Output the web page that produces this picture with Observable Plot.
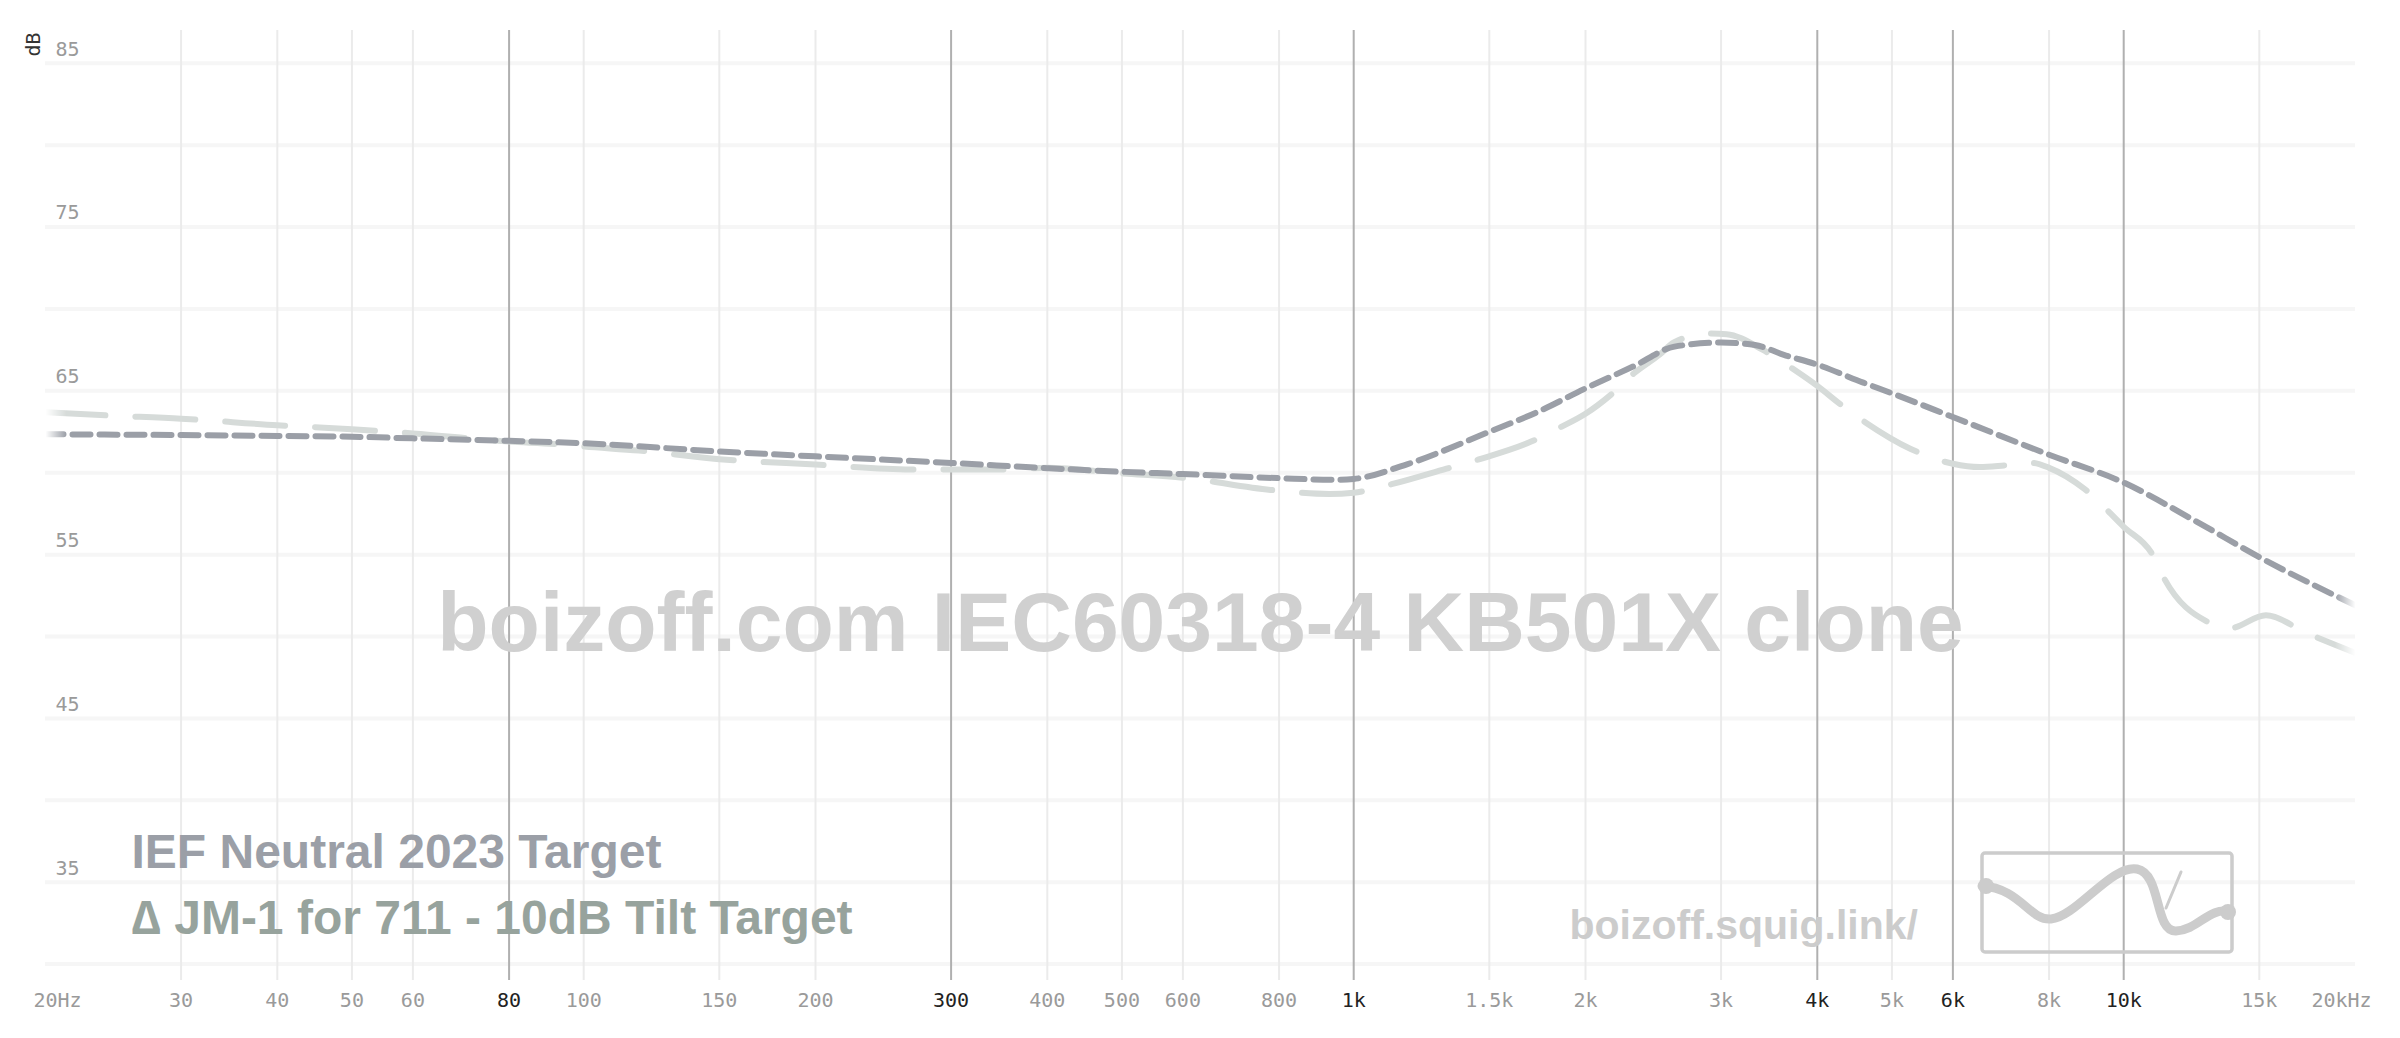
<!DOCTYPE html>
<html>
<head>
<meta charset="utf-8">
<script src="https://cdn.jsdelivr.net/npm/d3@7"></script>
<script src="https://cdn.jsdelivr.net/npm/@observablehq/plot@0.6"></script>
<style>
  html, body { margin: 0; padding: 0; background: #fff; }
  #chart svg { display: block; }
</style>
</head>
<body>
<div id="chart"></div>
<script>
// ---- data ----
const freqTicks  = [20, 30, 40, 50, 60, 80, 100, 150, 200, 300, 400, 500, 600, 800, 1000, 1500, 2000, 3000, 4000, 5000, 6000, 8000, 10000, 15000, 20000];
const freqLabels = ["20Hz", "30", "40", "50", "60", "80", "100", "150", "200", "300", "400", "500", "600", "800", "1k", "1.5k", "2k", "3k", "4k", "5k", "6k", "8k", "10k", "15k", "20kHz"];
const strongTicks = [80, 300, 1000, 4000, 6000, 10000];
const dbGrid   = [30, 35, 40, 45, 50, 55, 60, 65, 70, 75, 80, 85];
const dbLabels = [85, 75, 65, 55, 45, 35];

const seriesNames = ["IEF Neutral 2023 Target", "\u2206 JM-1 for 711 - 10dB Tilt Target"];
const chartTitle = "boizoff.com IEC60318-4 KB501X clone";
const siteLink = "boizoff.squig.link/";

const iefFreq = [20, 30, 40, 50, 60, 80, 100, 150, 200, 300, 400, 500, 600, 800, 950, 1000, 1170, 1500, 1740, 2000, 2310, 2610, 3000, 3320, 3620, 4000, 4590, 5000, 6000, 8000, 10000, 12450, 15000, 20000];
const iefDb   = [62.35, 62.3, 62.25, 62.2, 62.1, 61.95, 61.8, 61.3, 61.0, 60.6, 60.28, 60.06, 59.92, 59.67, 59.57, 59.62, 60.5, 62.5, 63.75, 65.15, 66.5, 67.7, 67.95, 67.8, 67.2, 66.6, 65.5, 64.85, 63.4, 61.1, 59.4, 57.0, 54.85, 51.9];

const jmFreq = [20, 24, 30, 40, 50, 60, 80, 92, 100, 118, 150, 200, 266, 300, 350, 400, 500, 600, 780, 930, 1000, 1120, 1320, 1450, 1700, 1860, 2000, 2155, 2310, 2500, 2605, 2885, 3050, 3400, 3730, 4000, 4280, 4620, 5290, 6000, 6500, 7000, 7600, 8000, 8900, 10000, 10900, 11300, 12900, 13700, 15300, 17300, 20000];
const jmDb   = [63.7, 63.5, 63.3, 62.9, 62.66, 62.4, 61.9, 61.75, 61.6, 61.35, 60.83, 60.5, 60.2, 60.2, 60.2, 60.3, 59.96, 59.7, 58.95, 58.7, 58.78, 59.3, 60.25, 60.8, 61.9, 62.8, 63.6, 64.74, 66.06, 67.24, 67.95, 68.5, 68.46, 67.5, 66.3, 65.3, 64.2, 63.07, 61.45, 60.55, 60.35, 60.45, 60.6, 60.3, 59.0, 56.7, 55.0, 53.5, 50.86, 50.5, 51.3, 50.2, 49.0];

// ---- tables ----
const ief = iefFreq.map((f, i) => ({f, db: iefDb[i]}));
const jm  = jmFreq.map((f, i) => ({f, db: jmDb[i]}));
const tickRows = freqTicks.map((f, i) => ({f, label: freqLabels[i], strong: strongTicks.includes(f)}));
const innerTicks = tickRows.slice(1, -1);
const lightGrid = freqTicks.filter(f => f !== 20 && f !== 20000 && !strongTicks.includes(f));

const mono = "'DejaVu Sans Mono', monospace";
const sans = "'Liberation Sans', Arial, sans-serif";

const chart = Plot.plot({
  width: 2400,
  height: 1038,
  marginLeft: 45,
  marginRight: 45,
  marginTop: 30,
  marginBottom: 58,
  style: {background: "#fff", fontFamily: mono},
  x: {type: "log", domain: [20, 20000], axis: null},
  y: {domain: [29, 87], axis: null},
  marks: [
    Plot.ruleY(dbGrid, {stroke: "#f6f6f6", strokeWidth: 4}),
    Plot.ruleX(lightGrid, {stroke: "#ebebeb", strokeWidth: 2}),
    Plot.ruleX(strongTicks, {stroke: "#b0b0b0", strokeWidth: 2}),
    // y labels
    Plot.text(dbLabels, {y: d => d, text: d => String(d), frameAnchor: "left", textAnchor: "start", dx: 10, dy: -14, fill: "#9a9a9a", fontSize: 20, fontFamily: mono}),
    Plot.text(["dB"], {frameAnchor: "top-left", rotate: -90, dx: -20, dy: 26, fill: "#333", fontSize: 20, fontFamily: mono}),
    // x labels
    Plot.text(innerTicks, {x: "f", text: "label", frameAnchor: "bottom", dy: 26, fill: d => d.strong ? "#222" : "#9a9a9a", fontSize: 20, fontFamily: mono}),
    Plot.text(tickRows.slice(0, 1), {x: "f", text: "label", frameAnchor: "bottom", dy: 26, dx: 12, fill: "#9a9a9a", fontSize: 20, fontFamily: mono}),
    Plot.text(tickRows.slice(-1), {x: "f", text: "label", frameAnchor: "bottom", dy: 26, dx: -14, fill: "#9a9a9a", fontSize: 20, fontFamily: mono}),
    // watermark
    Plot.text([chartTitle], {frameAnchor: "middle", dy: 119, fill: "#d0d0d0", fontSize: 84, fontWeight: "bold", fontFamily: sans}),
    Plot.text([siteLink], {frameAnchor: "bottom-left", textAnchor: "start", dx: 1524, dy: -42, fill: "#cccccc", fontSize: 41, fontWeight: "bold", fontFamily: sans}),
    // legend
    Plot.text([seriesNames[0]], {frameAnchor: "bottom-left", textAnchor: "start", dx: 86, dy: -113, fill: "#9b9fa7", fontSize: 48, fontWeight: "bold", fontFamily: sans}),
    Plot.text([seriesNames[1]], {frameAnchor: "bottom-left", textAnchor: "start", dx: 86, dy: -47, fill: "#97a39d", fontSize: 48, fontWeight: "bold", fontFamily: sans}),
    // curves
    Plot.line(jm, {x: "f", y: "db", curve: "monotone-x", stroke: "#d6dbd9", strokeWidth: 6, strokeDasharray: "60 30"}),
    Plot.line(ief, {x: "f", y: "db", curve: "monotone-x", stroke: "#9b9fa7", strokeWidth: 6, strokeDasharray: "18 9"})
  ]
});

document.getElementById("chart").appendChild(chart);

// fade the line ends and add the logo
const svg = d3.select(chart);
const defs = svg.insert("defs", ":first-child");
const grad = defs.append("linearGradient").attr("id", "fadeGrad").attr("gradientUnits", "userSpaceOnUse")
  .attr("x1", 45).attr("x2", 2355).attr("y1", 0).attr("y2", 0);
grad.append("stop").attr("offset", 0).attr("stop-color", "#000");
grad.append("stop").attr("offset", 0.009).attr("stop-color", "#fff");
grad.append("stop").attr("offset", 0.991).attr("stop-color", "#fff");
grad.append("stop").attr("offset", 1).attr("stop-color", "#000");
defs.append("mask").attr("id", "fadeMask").attr("maskUnits", "userSpaceOnUse")
  .attr("x", 0).attr("y", 0).attr("width", 2400).attr("height", 1038)
  .append("rect").attr("x", 0).attr("y", 0).attr("width", 2400).attr("height", 1038).attr("fill", "url(#fadeGrad)");
svg.selectAll("g[aria-label='line']").attr("mask", "url(#fadeMask)");

const logo = svg.append("g").attr("fill", "none").attr("stroke", "#cccccc");
logo.append("rect").attr("x", 1982).attr("y", 853).attr("width", 250).attr("height", 99).attr("rx", 3).attr("stroke-width", 3.5);
logo.append("path").attr("d", "M1982,886 C2020,888 2030,921 2051,919 C2076,917 2112,864 2137,869 C2162,874 2154,932 2176,931 C2198,930 2210,906 2230,912")
  .attr("stroke-width", 9).attr("stroke-linecap", "round");
logo.append("path").attr("d", "M2166,908 L2181,872").attr("stroke-width", 3).attr("stroke-linecap", "round");
logo.append("circle").attr("cx", 1986).attr("cy", 886).attr("r", 8).attr("fill", "#cccccc").attr("stroke", "none");
logo.append("circle").attr("cx", 2228).attr("cy", 912).attr("r", 8).attr("fill", "#cccccc").attr("stroke", "none");
</script>
</body>
</html>
